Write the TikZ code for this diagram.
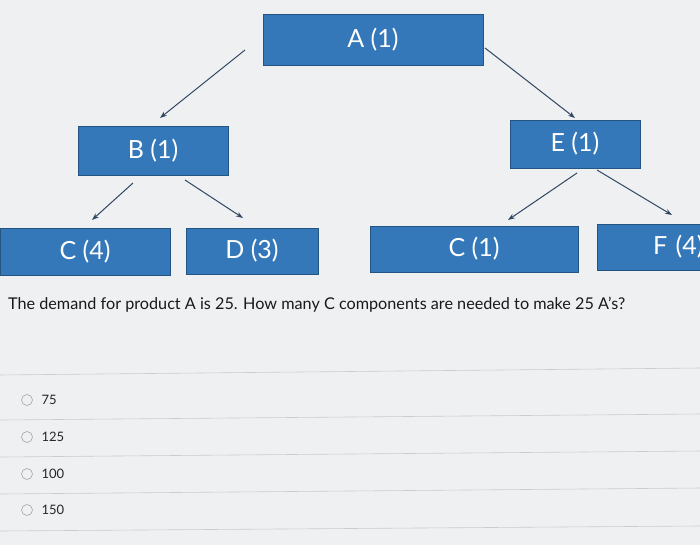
\documentclass[tikz,border=0pt]{standalone}
\usepackage{fontspec}
\setmainfont{Lato}
\usetikzlibrary{arrows.meta}
\definecolor{boxblue}{RGB}{52,120,185}
\definecolor{arr}{RGB}{50,70,100}
\definecolor{bg}{RGB}{238,240,242}
\begin{document}
\begin{tikzpicture}[x=1pt,y=-1pt,
  bx/.style={fill=boxblue,draw=boxblue!70!black,line width=0.4pt,text=white,font=\fontsize{25}{28}\selectfont,inner sep=0},
  con/.style={draw=arr,line width=1pt,-{Stealth[length=7pt,width=5pt]}},
  sep/.style={draw=gray!40,line width=0.6pt},
  opt/.style={anchor=west,font=\fontsize{13}{15}\selectfont,text=black!85}]
\fill[bg] (0,0) rectangle (700,545);
\useasboundingbox (0,0) rectangle (700,545);
\node[bx,minimum width=220,minimum height=51] (A) at (373,40) {A (1)};
\node[bx,minimum width=150,minimum height=49] (B) at (153,151) {B (1)};
\node[bx,minimum width=130,minimum height=48] (E) at (575,144) {E (1)};
\node[bx,minimum width=170,minimum height=47] (C4) at (85,252) {C (4)};
\node[bx,minimum width=132,minimum height=46] (D) at (252,251) {D (3)};
\node[bx,minimum width=208,minimum height=46] (C1) at (474,249) {C (1)};
\node[bx,minimum width=110,minimum height=46,text width=103,align=right] (F) at (652,247) {F (4)};
\coordinate (a1) at (245,50); \coordinate (a2) at (160,118);
\coordinate (a3) at (485,48); \coordinate (a4) at (575,118);
\coordinate (b1) at (133,183); \coordinate (b2) at (92,220);
\coordinate (b3) at (185,180); \coordinate (b4) at (243,218);
\coordinate (e1) at (577,173); \coordinate (e2) at (508,220);
\coordinate (e3) at (597,170); \coordinate (e4) at (672,215);
\draw[con] (a1) -- (a2);
\draw[con] (a3) -- (a4);
\draw[con] (b1) -- (b2);
\draw[con] (b3) -- (b4);
\draw[con] (e1) -- (e2);
\draw[con] (e3) -- (e4);
\node[anchor=west,inner sep=0,font=\fontsize{16.2}{18}\selectfont,text=black!90] (q) at (8,305) {The demand for product A is 25. How many C components are needed to make 25 A's?};
\draw[sep] (0,375) -- (700,368);
\draw[sep] (0,420) -- (700,414);
\draw[sep] (0,457) -- (700,451);
\draw[sep] (0,494) -- (700,488);
\draw[sep] (0,531) -- (700,526);
\foreach \y/\t in {400/75,437/125,474/100,510/150}{
  \draw[gray!70,line width=0.6pt] (27,\y) circle (5.5);
  \node[opt] at (38,\y) {\t};
}
\end{tikzpicture}
\end{document}
